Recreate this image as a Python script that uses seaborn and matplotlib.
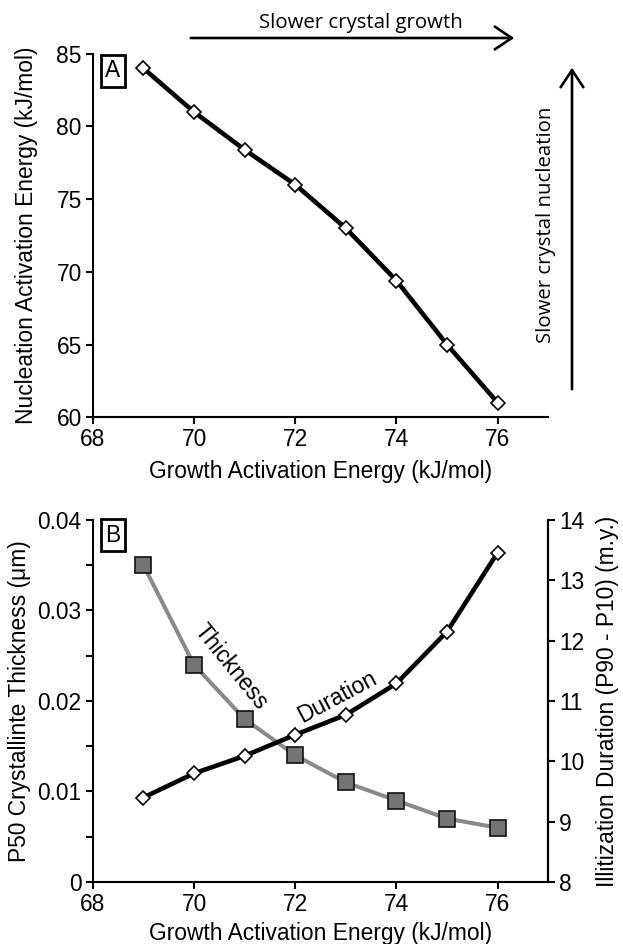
import matplotlib
matplotlib.use("Agg")
import matplotlib.pyplot as plt
import seaborn as sns
import pandas as pd
from matplotlib.ticker import MultipleLocator

# values
growth_energy = [69, 70, 71, 72, 73, 74, 75, 76]
nucleation_energy = [84, 81, 78.4, 76, 73, 69.4, 65, 61]
thickness = [0.035, 0.024, 0.018, 0.014, 0.011, 0.009, 0.007, 0.006]
duration = [9.40, 9.80, 10.09, 10.44, 10.77, 11.29, 12.15, 13.46]

sns.set_style("ticks")
plt.rcParams['font.family'] = ['Liberation Sans', 'DejaVu Sans']
FS = 16.4
plt.rcParams.update({'font.size': FS, 'text.color': 'black', 'axes.labelcolor': 'black',
                     'xtick.color': 'black', 'ytick.color': 'black',
                     'axes.edgecolor': 'black'})

df = pd.DataFrame({'growth': growth_energy, 'nucleation': nucleation_energy,
                   'thickness': thickness, 'duration': duration})

fig = plt.figure(figsize=(6.23, 9.44), dpi=100)
ax1 = fig.add_axes([0.149, 0.558, 0.731, 0.385])
ax2 = fig.add_axes([0.149, 0.0657, 0.731, 0.3835])

tick_kw = dict(direction='out', length=5, width=1.5, labelsize=FS, color='black', pad=3)

# panel A
sns.lineplot(data=df, x='growth', y='nucleation', ax=ax1, color='black', linewidth=3.3,
             marker='D', markersize=7.6, markerfacecolor='white', markeredgecolor='black',
             markeredgewidth=1.2)
ax1.set_xlim(68, 77)
ax1.set_ylim(60, 85)
ax1.set_xticks([68, 70, 72, 74, 76])
ax1.set_yticks([60, 65, 70, 75, 80, 85])
ax1.set_xlabel('Growth Activation Energy (kJ/mol)', fontsize=FS, labelpad=6)
ax1.set_ylabel('Nucleation Activation Energy (kJ/mol)', fontsize=FS, labelpad=13)
ax1.tick_params(**tick_kw)
for s in ['top', 'right']:
    ax1.spines[s].set_visible(False)
for s in ['left', 'bottom']:
    ax1.spines[s].set_linewidth(1.5)
ax1.text(20 / 455, 0.953, 'A', transform=ax1.transAxes, ha='center', va='center', fontsize=FS,
         bbox=dict(boxstyle='square,pad=0.2', fc='white', ec='black', lw=2))

# panel B
sns.lineplot(data=df, x='growth', y='thickness', ax=ax2, color='#8a8a8a', linewidth=2.9,
             marker='s', markersize=11.5, markerfacecolor='#747474', markeredgecolor='#111111',
             markeredgewidth=1.2, zorder=2)
ax2.set_xlim(68, 77)
ax2.set_ylim(0, 0.04)
ax2.set_xticks([68, 70, 72, 74, 76])
ax2.set_yticks([0, 0.01, 0.02, 0.03, 0.04])
ax2.set_yticklabels(['0', '0.01', '0.02', '0.03', '0.04'])
ax2.yaxis.set_minor_locator(MultipleLocator(0.005))
ax2.set_xlabel('Growth Activation Energy (kJ/mol)', fontsize=FS, labelpad=4)
ax2.set_ylabel('P50 Crystallinte Thickness (μm)', fontsize=FS, labelpad=5)
ax2.tick_params(**tick_kw)
ax2.tick_params(axis='y', which='minor', direction='out', length=5, width=1.5, color='black')
ax2.spines['top'].set_visible(False)
for s in ['left', 'bottom', 'right']:
    ax2.spines[s].set_linewidth(1.5)

ax3 = ax2.twinx()
sns.lineplot(data=df, x='growth', y='duration', ax=ax3, color='black', linewidth=3.3,
             marker='D', markersize=7.6, markerfacecolor='white', markeredgecolor='black',
             markeredgewidth=1.2)
ax3.set_ylim(8, 14)
ax3.set_yticks(range(8, 15))
ax3.set_ylabel('Illitization Duration (P90 - P10) (m.y.)', fontsize=FS, labelpad=8)
ax3.tick_params(**tick_kw)
ax3.spines['top'].set_visible(False)
ax3.spines['right'].set_linewidth(1.5)
ax3.spines['left'].set_visible(False)
ax3.spines['bottom'].set_visible(False)

ax2.text(20 / 455, 0.958, 'B', transform=ax2.transAxes, ha='center', va='center', fontsize=FS,
         bbox=dict(boxstyle='square,pad=0.2', fc='white', ec='black', lw=2))
ax2.text(70.73, 0.0238, 'Thickness', rotation=-51, ha='center', va='center', fontsize=FS,
         rotation_mode='anchor')
ax2.text(72.83, 0.0204, 'Duration', rotation=28, ha='center', va='center', fontsize=FS,
         rotation_mode='anchor')

# arrows for panel A
arrow_kw = dict(arrowstyle='->,head_length=0.75,head_width=0.5', lw=1.9, color='black')
ax1.annotate('', xy=(517 / 623, 1 - 38 / 944), xytext=(188 / 623, 1 - 38 / 944),
             xycoords='figure fraction', textcoords='figure fraction',
             arrowprops=arrow_kw, annotation_clip=False)
fig.text(361 / 623, 1 - 23 / 944, 'Slower crystal growth', ha='center', va='center',
         fontsize=14.7, family=['Open Sans', 'DejaVu Sans'])
ax1.annotate('', xy=(572 / 623, 1 - 65 / 944), xytext=(572 / 623, 1 - 392 / 944),
             xycoords='figure fraction', textcoords='figure fraction',
             arrowprops=arrow_kw, annotation_clip=False)
fig.text(546 / 623, 1 - 225 / 944, 'Slower crystal nucleation', ha='center', va='center',
         rotation=90, fontsize=14.7, family=['Open Sans', 'DejaVu Sans'])

fig.savefig('out.png', dpi=100)
